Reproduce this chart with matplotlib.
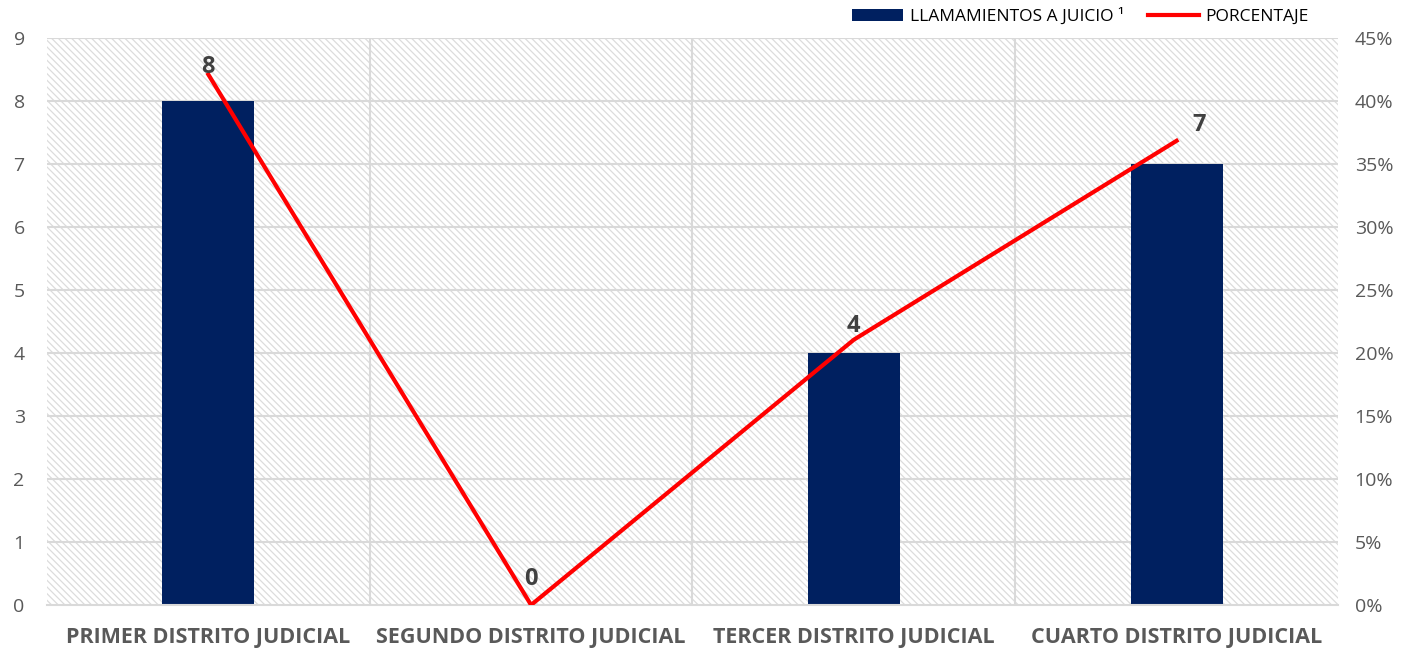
import numpy as np
import matplotlib.pyplot as plt
from matplotlib.patches import Rectangle
from matplotlib.ticker import PercentFormatter

categories = ['PRIMER DISTRITO JUDICIAL', 'SEGUNDO DISTRITO JUDICIAL',
              'TERCER DISTRITO JUDICIAL', 'CUARTO DISTRITO JUDICIAL']
llamamientos = [8, 0, 4, 7]
porcentaje = [v / sum(llamamientos) for v in llamamientos]

plt.rcParams['font.family'] = ['Open Sans', 'DejaVu Sans']
plt.rcParams['hatch.color'] = '#dcdcdc'
plt.rcParams['hatch.linewidth'] = 0.9

grey = '#595959'
fig = plt.figure(figsize=(14.06, 6.51), dpi=100)
ax = fig.add_axes([0.0334, 0.0707, 0.9182, 0.8709])
ax2 = ax.twinx()

x = np.arange(len(categories))
ax.set_xlim(-0.5, len(categories) - 0.5)
ax.set_ylim(0, 9)
ax2.set_ylim(0, 0.45)

# hatched plot background
ax.add_patch(Rectangle((0, 0), 1, 1, transform=ax.transAxes, facecolor='white',
                       edgecolor='#dcdcdc', hatch='\\\\\\\\\\', lw=0, zorder=0))
for y in range(1, 10):
    ax.axhline(y, color='#d9d9d9', lw=1.5, zorder=1)
for b in [0.5, 1.5, 2.5]:
    ax.axvline(b, color='#d9d9d9', lw=1.5, zorder=1)

ax.bar(x, llamamientos, width=0.285, color='#002060', zorder=2,
       label='LLAMAMIENTOS A JUICIO ¹')
ax2.plot(x, porcentaje, color='#ff0000', lw=3, zorder=3, label='PORCENTAJE')

offsets = [(0, -3), (0, 10), (0, 1), (16, 3)]
for xi, v, p, off in zip(x, llamamientos, porcentaje, offsets):
    ax2.annotate(str(v), (xi, p), xytext=off, textcoords='offset points',
                 ha='center', va='bottom', fontsize=17, fontweight='bold', color='#404040')

for a in (ax, ax2):
    for s in a.spines.values():
        s.set_visible(False)
ax.spines['bottom'].set_visible(True)
ax.spines['bottom'].set_color('#d9d9d9')
ax.spines['bottom'].set_linewidth(1.5)

ax.set_xticks(x)
ax.set_xticklabels(categories, fontsize=15.5, fontweight='bold', color=grey)
ax.set_yticks(range(10))
ax.tick_params(axis='y', length=0, labelsize=14, labelcolor=grey, pad=16)
ax.tick_params(axis='x', length=0, pad=16)
ax2.set_yticks(np.arange(0, 0.46, 0.05))
ax2.yaxis.set_major_formatter(PercentFormatter(1.0, decimals=0))
ax2.tick_params(axis='y', length=0, labelsize=14, labelcolor=grey, pad=12)

h1, l1 = ax.get_legend_handles_labels()
h2, l2 = ax2.get_legend_handles_labels()
fig.legend(h1 + h2, l1 + l2, loc='upper right', bbox_to_anchor=(0.942, 1.012),
           ncol=2, frameon=False, fontsize=12.5, handlelength=2.9,
           handleheight=0.7, columnspacing=1.4, handletextpad=0.4)

fig.savefig('out.png', dpi=100)
